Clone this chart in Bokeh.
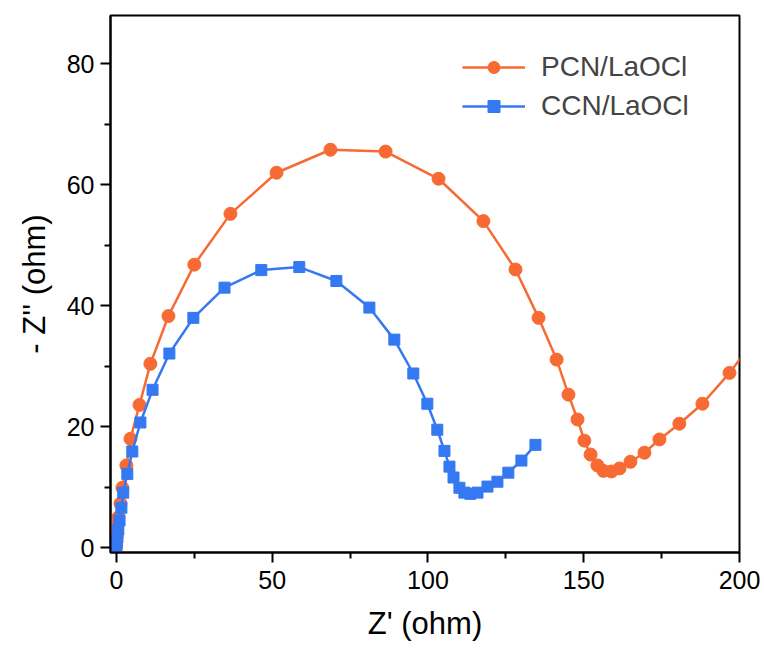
from bokeh.plotting import figure
from bokeh.models import Range1d, FixedTicker, Legend, LegendItem
from bokeh.embed import file_html
from bokeh.resources import INLINE

# PCN/LaOCl (orange circles)
pcn_x = [-0.2, -0.1, 0.0, 0.1, 0.2, 0.4, 0.6, 1.3, 1.9, 3.2, 4.5, 7.4, 10.9, 16.7, 25.0, 36.6,
         51.4, 68.7, 86.4, 103.4, 117.8, 128.1, 135.5, 141.3, 145.1, 148.0, 150.2, 152.2,
         154.4, 156.3, 158.9, 161.5, 165.0, 169.5, 174.3, 180.7, 188.1, 196.8, 205.0]
pcn_y = [0.0, 0.4, 1.0, 1.8, 2.8, 4.0, 5.0, 7.3, 9.9, 13.6, 18.0, 23.6, 30.4, 38.3, 46.8, 55.2,
         62.0, 65.8, 65.5, 61.0, 54.0, 46.0, 38.0, 31.1, 25.3, 21.2, 17.7, 15.4,
         13.6, 12.7, 12.6, 13.1, 14.2, 15.7, 17.9, 20.5, 23.8, 28.9, 34.5]

# CCN/LaOCl (blue squares)
ccn_x = [0.0, 0.1, 0.3, 0.6, 1.0, 1.6, 2.2, 3.5, 5.1, 7.7, 11.6, 17.0, 24.7, 34.7, 46.5, 58.7,
         70.6, 81.2, 89.2, 95.3, 99.8, 103.0, 105.3, 106.9, 108.2, 110.1, 111.7, 113.6,
         115.9, 119.1, 122.3, 125.8, 130.0, 134.5]
ccn_y = [0.2, 0.8, 1.8, 3.0, 4.5, 6.6, 9.1, 12.2, 15.9, 20.7, 26.1, 32.1, 38.0, 43.0, 45.9, 46.4,
         44.1, 39.7, 34.4, 28.8, 23.8, 19.5, 16.0, 13.4, 11.6, 9.9, 9.1, 8.9,
         9.1, 10.1, 10.9, 12.4, 14.4, 17.0]

x_major = [0, 50, 100, 150, 200]
x_minor = [25, 75, 125, 175]
y_major = [0, 20, 40, 60, 80]
y_minor = [10, 30, 50, 70]

ORANGE = "#F86A33"
BLUE = "#3479F2"
FONT = "Liberation Sans"

p = figure(width=764, height=653, output_backend="svg", toolbar_location=None,
           x_range=Range1d(-1.9, 200), y_range=Range1d(-0.8, 88),
           min_border_left=110, min_border_right=25, min_border_top=15, min_border_bottom=101)

p.background_fill_color = "white"
p.border_fill_color = "white"
p.outline_line_color = "black"
p.outline_line_width = 2
p.xgrid.visible = False
p.ygrid.visible = False

p.xaxis.ticker = FixedTicker(ticks=x_major, minor_ticks=x_minor)
p.yaxis.ticker = FixedTicker(ticks=y_major, minor_ticks=y_minor)

for ax in (p.xaxis[0], p.yaxis[0]):
    ax.axis_line_width = 2
    ax.major_tick_line_width = 2
    ax.minor_tick_line_width = 2
    ax.major_tick_out = 10
    ax.major_tick_in = 0
    ax.minor_tick_out = 6
    ax.minor_tick_in = 0
    ax.major_label_text_font = FONT
    ax.major_label_text_font_size = "25px"
    ax.major_label_text_color = "black"
    ax.axis_label_text_font = FONT
    ax.axis_label_text_font_size = "31px"
    ax.axis_label_text_font_style = "normal"
    ax.axis_label_text_color = "black"

p.xaxis.axis_label = "Z' (ohm)"
p.yaxis.axis_label = "- Z'' (ohm)"
p.xaxis.major_label_standoff = 8
p.yaxis.major_label_standoff = 6
p.xaxis.axis_label_standoff = 14
p.yaxis.axis_label_standoff = 12

l1 = p.line(pcn_x, pcn_y, line_color=ORANGE, line_width=2.5)
s1 = p.scatter(pcn_x, pcn_y, marker="circle", size=13, fill_color=ORANGE, line_color=ORANGE)
l2 = p.line(ccn_x, ccn_y, line_color=BLUE, line_width=2.5)
s2 = p.scatter(ccn_x, ccn_y, marker="square", size=11, fill_color=BLUE, line_color=BLUE)

legend = Legend(items=[LegendItem(label="PCN/LaOCl", renderers=[l1, s1]),
                       LegendItem(label="CCN/LaOCl", renderers=[l2, s2])],
                location=(352, 430), border_line_color=None, background_fill_alpha=0,
                padding=0, margin=0, spacing=7, glyph_width=63, glyph_height=30,
                label_height=30, label_standoff=16,
                label_text_font=FONT, label_text_font_size="28px")
p.add_layout(legend)

open("out.html", "w").write(file_html(p, INLINE))
